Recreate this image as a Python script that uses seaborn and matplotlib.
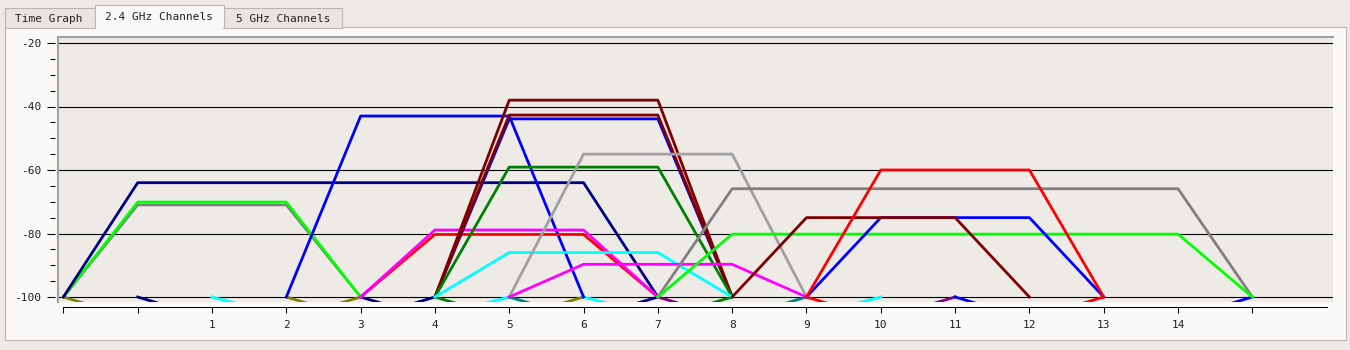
import numpy as np
import pandas as pd
import matplotlib
matplotlib.use("Agg")
import matplotlib.pyplot as plt
import seaborn as sns
from matplotlib.patches import Rectangle
from matplotlib.lines import Line2D

# ---------------- data ----------------
tab_labels = ["Time Graph", "2.4 GHz Channels", "5 GHz Channels"]

# weak networks (below -100 dBm, only their feet show) then visible networks
net_ids = ["w1", "w2", "w3", "w4", "w5", "w6", "w7", "w8", "w9", "w10", "w11",
           "n1", "n2", "n3", "n4", "n5", "n6", "n7", "n8", "n9", "n10", "n11",
           "n12", "n13", "n14", "n15", "n16", "n17", "n18"]
centers = [1, 2, 3, 4, 5, 6, 7, 8, 9, 11, 13,
           1, 1, 3, 4, 5, 5, 6, 6, 6, 6, 6, 7, 7, 11, 11, 11, 10, 11]
widths = [20, 20, 20, 20, 20, 20, 20, 20, 20, 20, 20,
          20, 20, 40, 20, 20, 20, 20, 20, 20, 20, 20, 20, 20, 40, 40, 20, 20, 20]
levels = [-107, -107, -106, -107, -107, -107, -107, -106, -107, -107, -107,
          -71.0, -70.1, -64.0, -43.0, -80.3, -78.9, -43.9, -42.7, -38.0, -59.1, -86.0,
          -55.0, -89.7, -65.9, -80.2, -75.0, -75.0, -60.0]
colors = ["#808000", "#000080", "#00ffff", "#808000", "#000080", "#008000", "#008080",
          "#00ffff", "#800080", "#ff0000", "#0000ff",
          "#808080", "#00ff00", "#000080", "#0000ff", "#ff0000", "#ff00ff", "#0000ff",
          "#800000", "#800000", "#008000", "#00ffff", "#a0a0a4", "#ff00ff",
          "#808080", "#00ff00", "#0000ff", "#800000", "#ff0000"]
floor_dbm = -100

y_ticks = [-20, -40, -60, -80, -100]
y_tick_labels = ["-20", "-40", "-60", "-80", "-100"]
x_ticks = list(range(-1, 16))
x_tick_labels = ["", ""] + [str(c) for c in range(1, 15)] + [""]

# ---------------- build table ----------------
rows = []
for nid, c, w, lvl in zip(net_ids, centers, widths, levels):
    hb = 2 if w == 20 else 4
    ht = hb - 1
    for x, y in [(c - hb, floor_dbm), (c - ht, lvl), (c + ht, lvl), (c + hb, floor_dbm)]:
        rows.append({"net": nid, "channel": x, "dbm": y})
df = pd.DataFrame(rows)
palette = dict(zip(net_ids, colors))

# ---------------- figure ----------------
W, H = 1350, 350
fig = plt.figure(figsize=(13.5, 3.5), dpi=100)
mono = "DejaVu Sans Mono"

outer_bg = "#edeae6"
panel_bg = "#fbf9f7"
canvas_bg = "#eeebe7"
border = "#b9b6b1"

bg = fig.add_axes([0, 0, 1, 1], zorder=-10)
bg.set_xlim(0, W)
bg.set_ylim(H, 0)
bg.axis("off")
bg.add_patch(Rectangle((0, 0), W, H, facecolor=outer_bg, edgecolor="none"))
# panel
bg.add_patch(Rectangle((4.5, 27), 1341.5, 313, facecolor=panel_bg, edgecolor=border, lw=0.8))
# tabs
bg.add_patch(Rectangle((5, 7.5), 90, 20, facecolor="#e8e5e1", edgecolor=border, lw=0.8))
bg.add_patch(Rectangle((224, 7.5), 118, 20, facecolor="#e8e5e1", edgecolor=border, lw=0.8))
bg.add_patch(Rectangle((95, 4.5), 129, 23.5, facecolor=panel_bg, edgecolor=border, lw=0.8))
bg.add_patch(Rectangle((95.6, 26.5), 127.8, 2.5, facecolor=panel_bg, edgecolor="none"))
bg.text(49, 18.5, tab_labels[0], ha="center", va="center", fontsize=8, family=mono, color="#202020")
bg.text(159, 17, tab_labels[1], ha="center", va="center", fontsize=8, family=mono, color="#202020")
bg.text(283, 18.5, tab_labels[2], ha="center", va="center", fontsize=8, family=mono, color="#202020")

# plot canvas: pixels x 58..1333, y 37..301.5
left_px, right_px, top_px, bot_px = 58, 1333, 37, 301.5
ax = fig.add_axes([left_px / W, 1 - bot_px / H, (right_px - left_px) / W, (bot_px - top_px) / H])
ax.set_facecolor(canvas_bg)

px_per_ch = 74.31
ch0_px = 137.7
px_per_db = 3.175
ax.set_xlim((left_px - ch0_px) / px_per_ch, (right_px - ch0_px) / px_per_ch)
ax.set_ylim(-100 - (bot_px - 297) / px_per_db, -20 + (43 - top_px) / px_per_db)

for yv in y_ticks:
    ax.axhline(yv, color="black", lw=0.8, zorder=1)

sns.lineplot(data=df, x="channel", y="dbm", hue="net", hue_order=net_ids, palette=palette,
             sort=False, estimator=None, legend=False, lw=2.0, ax=ax, zorder=3)

ax.set_xlabel("")
ax.set_ylabel("")

# spines
ax.spines["right"].set_visible(False)
ax.spines["left"].set_visible(False)
ax.spines["left"].set_position(("outward", 2.2))
ax.spines["top"].set_color("#a0a0a0")
ax.spines["top"].set_linewidth(1.5)
ax.spines["bottom"].set_position(("outward", 4.0))
ax.spines["bottom"].set_bounds(-1, 16)
ax.spines["bottom"].set_color("black")
ax.spines["bottom"].set_linewidth(0.75)
# left frame of canvas
ax.add_line(Line2D([0.0, 0.0], [0, 1], transform=ax.transAxes, color="#a0a0a0",
                   lw=1.5, clip_on=False, zorder=5))

ax.set_yticks(y_ticks)
ax.set_yticklabels(y_tick_labels)
ax.set_yticks(np.arange(-100, -19, 5), minor=True)
ax.set_xticks(x_ticks)
ax.set_xticklabels(x_tick_labels)
ax.tick_params(axis="y", which="major", direction="out", length=5.8, width=0.75,
               color="black", pad=4.3, labelsize=8)
ax.tick_params(axis="y", which="minor", direction="out", length=3.4, width=0.75, color="black")
ax.tick_params(axis="x", which="major", direction="out", length=4.3, width=0.75,
               color="black", pad=5, labelsize=8)
for lab in ax.get_xticklabels() + ax.get_yticklabels():
    lab.set_family(mono)
    lab.set_color("#202020")

fig.savefig("out.png", dpi=100)
